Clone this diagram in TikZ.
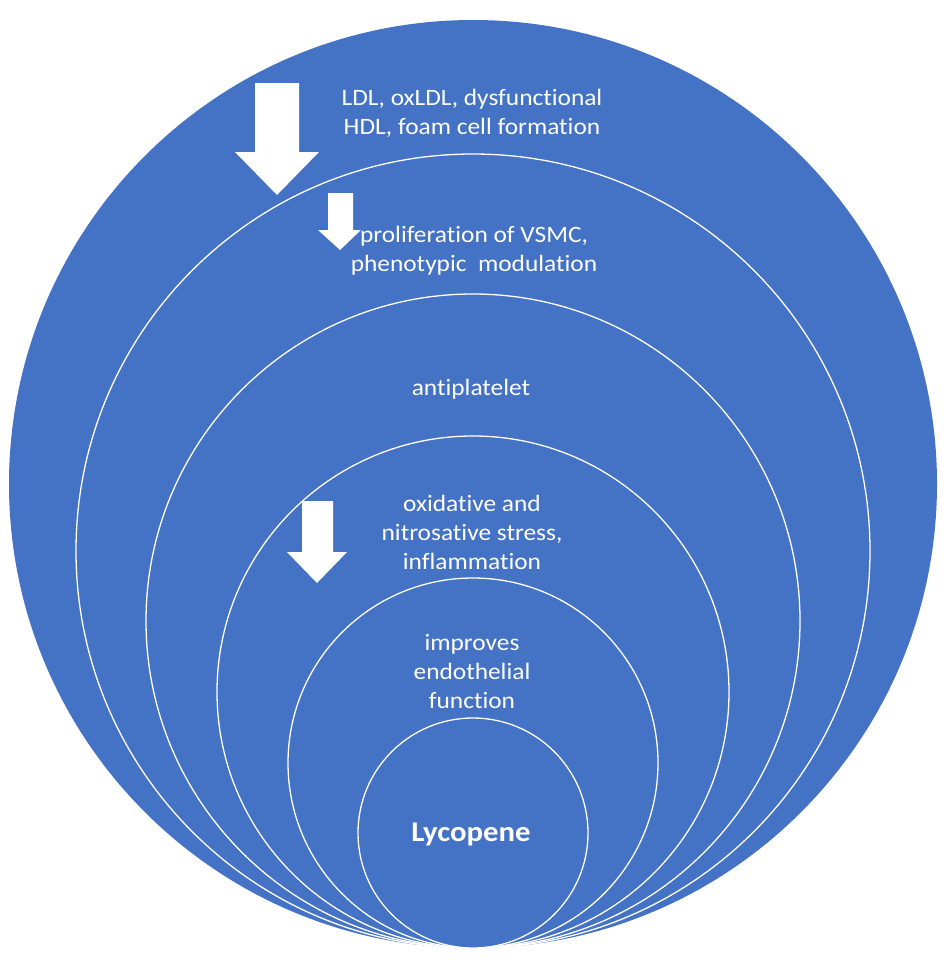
\documentclass[tikz,border=0pt]{standalone}
\usepackage{fontspec}
\setmainfont{Carlito}[FakeStretch=1.08, Ligatures=NoCommon]
\definecolor{ringblue}{HTML}{4472C4}
\tikzset{
  ring/.style={fill=ringblue, draw=white, line width=1.3pt},
  label/.style={text=white, align=center, font=\fontsize{23.5}{29}\selectfont, inner sep=0pt},
  downarrow/.style={fill=white, draw=none}
}
\begin{document}
\begin{tikzpicture}[x=1pt,y=-1pt]
\useasboundingbox (0,0) rectangle (945,969);
% nested circles, all touching at the bottom
\fill[ringblue] (473,484) circle[radius=464];
\draw[ring] (473,551) circle[radius=397];
\draw[ring] (473,621) circle[radius=327];
\draw[ring] (473,692) circle[radius=256];
\draw[ring] (473,763) circle[radius=185];
\draw[ring] (473,833) circle[radius=115];
% arrows
\fill[downarrow] (255,83) -- (299,83) -- (299,152) -- (319,152) -- (277,195) -- (235,152) -- (255,152) -- cycle;
\fill[downarrow] (328,193) -- (353,193) -- (353,230) -- (361,230) -- (340,250) -- (318,230) -- (328,230) -- cycle;
\fill[downarrow] (302,501) -- (333,501) -- (333,552) -- (347,552) -- (317,583) -- (287,552) -- (302,552) -- cycle;
% labels
\node[label] (t1) at (472,113) {LDL, oxLDL, dysfunctional\\HDL, foam cell formation};
\node[label] (t2) at (474,251) {proliferation of VSMC,\\phenotypic\ \ modulation};
\node[label] (t3) at (471,389) {antiplatelet};
\node[label] (t4) at (472,532) {oxidative and\\nitrosative stress,\\inflammation};
\node[label] (t5) at (472,671) {improves\\endothelial\\function};
\node[label, font=\fontsize{28.5}{33}\selectfont\bfseries] (t6) at (471,834) {Lycopene};
\end{tikzpicture}
\end{document}
